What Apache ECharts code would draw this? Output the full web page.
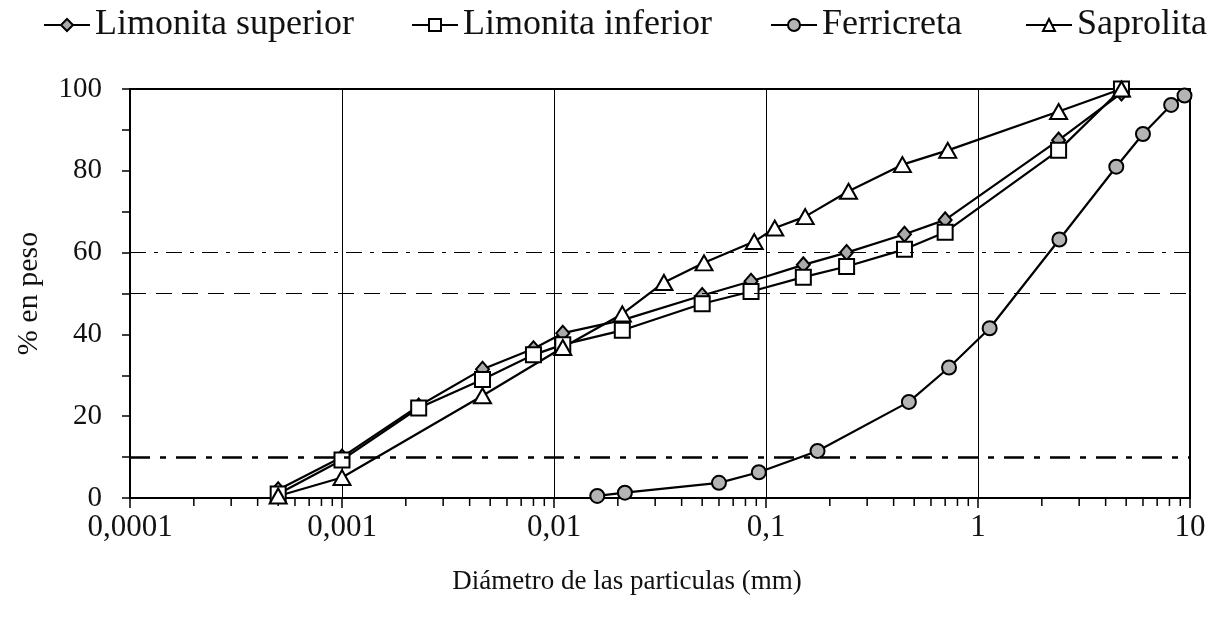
<!DOCTYPE html>
<html>
<head>
<meta charset="utf-8">
<script src="https://cdn.jsdelivr.net/npm/echarts@6/dist/echarts.min.js"></script>
<style>
html,body{margin:0;padding:0;background:#fff;}
#chart{width:1226px;height:621px;}
</style>
</head>
<body>
<div id="chart"></div>
<script>
// ---- data ----
const seriesNames = ['Limonita superior', 'Limonita inferior', 'Ferricreta', 'Saprolita'];

const limSupX = [0.0005, 0.001, 0.0023, 0.0046, 0.008, 0.011, 0.021, 0.05, 0.085, 0.15, 0.24, 0.45, 0.7, 2.4, 4.75];
const limSupY = [2, 10, 22.5, 31.5, 36.5, 40.3, 43.5, 49.5, 53, 57, 60, 64.5, 68, 87.5, 99];

const limInfX = [0.0005, 0.001, 0.0023, 0.0046, 0.008, 0.011, 0.021, 0.05, 0.085, 0.15, 0.24, 0.45, 0.7, 2.4, 4.75];
const limInfY = [1, 9.3, 22, 29, 35, 37.5, 41, 47.5, 50.5, 54, 56.6, 60.8, 65, 85, 100];

const ferrX = [0.016, 0.0216, 0.06, 0.0925, 0.175, 0.472, 0.73, 1.135, 2.42, 4.49, 6.0, 8.15, 9.42];
const ferrY = [0.5, 1.3, 3.7, 6.3, 11.5, 23.5, 31.9, 41.5, 63.2, 81, 89, 96.1, 98.4];

const sapX = [0.0005, 0.001, 0.0046, 0.011, 0.021, 0.033, 0.051, 0.088, 0.11, 0.153, 0.245, 0.44, 0.72, 2.4, 4.75];
const sapY = [0.5, 5, 25, 36.8, 45, 52.7, 57.5, 62.7, 66, 68.8, 75, 81.5, 85, 94.5, 100];

const refLines = [60, 50, 10];
const xTickLabels = ['0,0001', '0,001', '0,01', '0,1', '1', '10'];
const xDecades = [0.0001, 0.001, 0.01, 0.1, 1];
const minorMultipliers = [2, 3, 4, 5, 6, 7, 8, 9];

// ---- build ----
const zip = (xs, ys) => xs.map((x, i) => [x, ys[i]]);
const minorTicks = [];
xDecades.forEach(d => minorMultipliers.forEach(m => minorTicks.push([d * m, 0])));

const FONT = 'Liberation Serif';
const lineBase = {
  type: 'line',
  lineStyle: { color: '#000', width: 2.2 },
  emphasis: { disabled: true },
  animation: false,
  z: 3
};

const chart = echarts.init(document.getElementById('chart'));
const legendBase = {
  top: 2,
  itemWidth: 46,
  itemHeight: 15,
  itemGap: 0,
  textStyle: { fontFamily: FONT, fontSize: 36, color: '#111' },
  selectedMode: false
};
const legendLefts = [38, 406, 765, 1020];

chart.setOption({
  backgroundColor: '#fff',
  animation: false,
  legend: seriesNames.map((n, i) => Object.assign({}, legendBase, { left: legendLefts[i], data: [n] })),
  grid: {
    left: 130, right: 36, top: 89, bottom: 123,
    show: true, borderColor: '#000', borderWidth: 2, backgroundColor: 'transparent'
  },
  xAxis: {
    type: 'log',
    logBase: 10,
    min: 0.0001,
    max: 10,
    name: 'Diámetro de las particulas (mm)',
    nameLocation: 'middle',
    nameGap: 70,
    nameTextStyle: { fontFamily: FONT, fontSize: 27, color: '#111', padding: [0, 66, 0, 0] },
    axisLine: { lineStyle: { color: '#000', width: 2 } },
    axisTick: { show: true, inside: false, length: 10, lineStyle: { color: '#000', width: 1.5 } },
    axisLabel: {
      fontFamily: FONT, fontSize: 31, color: '#111', margin: 14,
      formatter: v => {
        const idx = Math.round(Math.log10(v)) + 4;
        return xTickLabels[idx] !== undefined ? xTickLabels[idx] : '';
      }
    },
    splitLine: { show: true, lineStyle: { color: '#000', width: 1 } }
  },
  yAxis: {
    type: 'value',
    min: 0, max: 100, interval: 20,
    name: '% en peso',
    nameLocation: 'middle',
    nameGap: 86,
    nameRotate: 90,
    nameTextStyle: { fontFamily: FONT, fontSize: 30, color: '#111' },
    axisLine: { show: true, lineStyle: { color: '#000', width: 2 } },
    axisTick: { show: true, inside: false, length: 8, lineStyle: { color: '#000', width: 1.5 } },
    minorTick: { show: true, splitNumber: 2, length: 8, lineStyle: { color: '#000', width: 1.5 } },
    axisLabel: { fontFamily: FONT, fontSize: 29, color: '#111', margin: 28 },
    splitLine: { show: false }
  },
  series: [
    Object.assign({}, lineBase, {
      name: seriesNames[0], data: zip(limSupX, limSupY),
      symbol: 'diamond', symbolSize: [13, 15],
      itemStyle: { color: '#aaa', borderColor: '#000', borderWidth: 2 },
      markLine: {
        silent: true, symbol: 'none', label: { show: false }, animation: false,
        data: [
          { yAxis: refLines[0], lineStyle: { color: '#000', width: 1, type: [16, 8, 4, 8] } },
          { yAxis: refLines[1], lineStyle: { color: '#000', width: 1, type: [16, 10] } },
          { yAxis: refLines[2], lineStyle: { color: '#000', width: 2.5, type: [20, 10, 6, 10] } }
        ]
      }
    }),
    Object.assign({}, lineBase, {
      name: seriesNames[1], data: zip(limInfX, limInfY),
      symbol: 'rect', symbolSize: 15,
      itemStyle: { color: '#fff', borderColor: '#000', borderWidth: 2 }
    }),
    Object.assign({}, lineBase, {
      name: seriesNames[2], data: zip(ferrX, ferrY),
      symbol: 'circle', symbolSize: 14,
      itemStyle: { color: '#b4b4b4', borderColor: '#000', borderWidth: 2 }
    }),
    Object.assign({}, lineBase, {
      name: seriesNames[3], data: zip(sapX, sapY),
      symbol: 'triangle', symbolSize: [17, 15],
      itemStyle: { color: '#fff', borderColor: '#000', borderWidth: 2 }
    }),
    {
      type: 'custom',
      name: 'minorTicks',
      data: minorTicks,
      silent: true,
      clip: false,
      animation: false,
      z: 1,
      renderItem: (params, api) => {
        const p = api.coord([api.value(0), 0]);
        return {
          type: 'line',
          shape: { x1: p[0], y1: p[1], x2: p[0], y2: p[1] + 8 },
          style: { stroke: '#000', lineWidth: 1.5 }
        };
      }
    }
  ]
});
</script>
</body>
</html>
